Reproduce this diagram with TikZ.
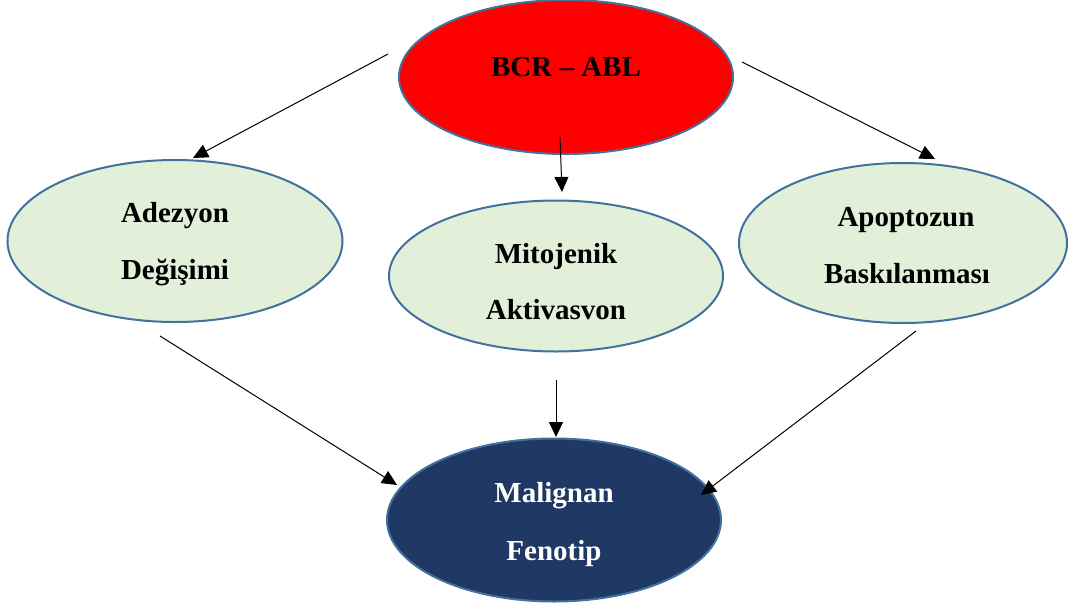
\documentclass[tikz,border=0pt]{standalone}
\usepackage{fontspec}
\setmainfont{Liberation Serif}
\usetikzlibrary{shapes.geometric,arrows.meta}
\definecolor{edgeblue}{HTML}{41719C}
\definecolor{paleGreen}{HTML}{E2EFD9}
\definecolor{darkNavy}{HTML}{203864}
\begin{document}
\begin{tikzpicture}[x=1pt,y=-1pt,
  blob/.style={ellipse, draw=edgeblue, line width=2pt, inner sep=0pt},
  lbl/.style={anchor=base, inner sep=0pt, font=\fontsize{29}{35}\selectfont\bfseries},
  arr/.style={-{Triangle[length=15pt,width=14pt]}, line width=1pt, draw=black}]
\useasboundingbox (0,0) rectangle (1068,605);
% ellipses
\node[blob, fill=red, minimum width=334pt, minimum height=154pt] (bcr) at (566,77) {};
\node[blob, fill=paleGreen, minimum width=335pt, minimum height=162pt] (adz) at (175,241) {};
\node[blob, fill=paleGreen, minimum width=334pt, minimum height=151pt] (mit) at (556,276) {};
\node[blob, fill=paleGreen, minimum width=328pt, minimum height=160pt] (apo) at (903,243) {};
\node[blob, fill=darkNavy, minimum width=334pt, minimum height=163pt] (mal) at (554,520) {};
% labels
\node[lbl] (bcrT) at (566,76) {BCR – ABL};
\node[lbl] (adzT1) at (175,222) {Adezyon};
\node[lbl] (adzT2) at (175,279) {Değişimi};
\node[lbl] (mitT1) at (556,263) {Mitojenik};
\node[lbl] (mitT2) at (556,319) {Aktivasvon};
\node[lbl] (apoT1) at (906,226) {Apoptozun};
\node[lbl] (apoT2) at (907,283) {Baskılanması};
\node[lbl, text=white] (malT1) at (554,502) {Malignan};
\node[lbl, text=white] (malT2) at (554,560) {Fenotip};
% connector end points
\coordinate (a1s) at (388,54);  \coordinate (a1e) at (193,158);
\coordinate (a2s) at (560,137); \coordinate (a2e) at (562,192);
\coordinate (a3s) at (742,62);  \coordinate (a3e) at (935,159);
\coordinate (a4s) at (160,336); \coordinate (a4e) at (397,485);
\coordinate (a5s) at (556,380); \coordinate (a5e) at (556,437);
\coordinate (a6s) at (916,331); \coordinate (a6e) at (701,495);
% connectors
\draw[arr] (a1s) -- (a1e);
\draw[arr] (a2s) -- (a2e);
\draw[arr] (a3s) -- (a3e);
\draw[arr] (a4s) -- (a4e);
\draw[arr] (a5s) -- (a5e);
\draw[arr] (a6s) -- (a6e);
\end{tikzpicture}
\end{document}
